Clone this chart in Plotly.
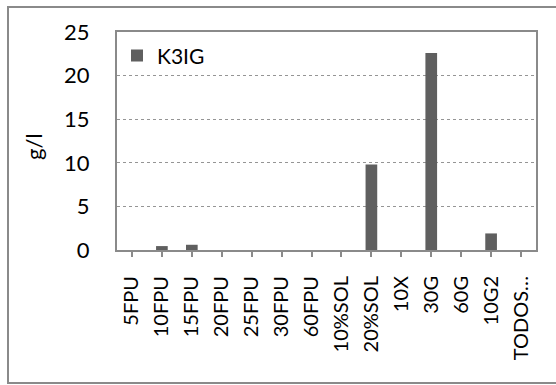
import plotly.graph_objects as go

# Concentration of K3IG per treatment (g/l)
categories = ["5FPU", "10FPU", "15FPU", "20FPU", "25FPU", "30FPU", "60FPU",
              "10%SOL", "20%SOL", "10X", "30G", "60G", "10G2", "TODOS…"]
k3ig = [0, 0.45, 0.6, 0, 0, 0, 0, 0, 9.8, 0, 22.6, 0, 1.9, 0]
y_ticks = [0, 5, 10, 15, 20, 25]

FONT = "Lato"
W, H = 556, 385
ML, MR, MT, MB = 117, 20, 32, 135
PW, PH = W - ML - MR, H - MT - MB

fig = go.Figure()
fig.add_trace(go.Bar(
    x=categories, y=k3ig, name="K3IG",
    marker=dict(color="#5f5f5f", line=dict(width=0)),
))

# convert page pixels to plot-area paper units
def px_x(p):
    return (p - ML) / PW

def px_y(p):
    return (H - MB - p) / PH

# outer chart frame
fig.add_shape(type="rect", xref="paper", yref="paper",
              x0=px_x(8), x1=px_x(560), y0=px_y(383), y1=px_y(7),
              line=dict(color="#8a8a8a", width=2), fillcolor="rgba(0,0,0,0)",
              layer="below")

# y-axis title
fig.add_annotation(text="g/l", xref="paper", yref="paper",
                   x=px_x(33), y=px_y(147), xanchor="center", yanchor="middle",
                   textangle=-90, showarrow=False,
                   font=dict(family=FONT, size=22, color="#000000"))

fig.update_layout(
    width=W, height=H,
    margin=dict(l=ML, r=MR, t=MT, b=MB, pad=0),
    paper_bgcolor="white", plot_bgcolor="white",
    font=dict(family=FONT, size=21, color="#000000"),
    bargap=0.61,
    showlegend=True,
    legend=dict(x=0.0, y=0.985, xanchor="left", yanchor="top",
                bgcolor="rgba(0,0,0,0)", font=dict(size=21),
                itemwidth=30),
    xaxis=dict(
        type="category", tickangle=-90,
        showline=True, linecolor="#8a8a8a", linewidth=2, mirror=True,
        ticks="outside", ticklen=5, tickcolor="#8a8a8a", tickwidth=2,
        showgrid=False, ticklabelstandoff=11,
        tickfont=dict(size=20),
    ),
    yaxis=dict(
        range=[0, 25], tickvals=y_ticks,
        showline=True, linecolor="#8a8a8a", linewidth=2, mirror=True,
        ticks="", showgrid=True, gridcolor="#959595", gridwidth=1, griddash="dot",
        zeroline=False, ticklabelstandoff=21,
        tickfont=dict(size=22),
    ),
)

fig.write_html("out.html")
